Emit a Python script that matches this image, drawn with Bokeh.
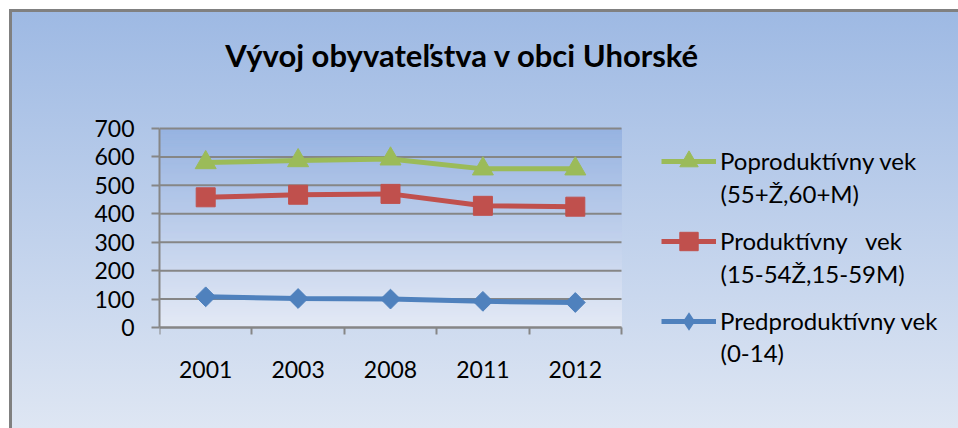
import numpy as np
from bokeh.plotting import figure
from bokeh.models import (Range1d, FixedTicker, Legend, LegendItem, ColumnDataSource, Label)
from bokeh.core.properties import value
from bokeh.embed import file_html
from bokeh.resources import INLINE

# ---------------- data ----------------
years = ["2001", "2003", "2008", "2011", "2012"]
poproduktivny = [580, 587, 593, 558, 558]
produktivny = [458, 467, 470, 428, 425]
predproduktivny = [108, 102, 100, 92, 88]
y_ticks = [0, 100, 200, 300, 400, 500, 600, 700]
series_names = ["Poproduktívny vek", "Produktívny   vek", "Predproduktívny vek"]
series_notes = ["(55+Ž,60+M)", "(15-54Ž,15-59M)", "(0-14)"]
title_text = "Vývoj obyvateľstva v obci Uhorské"

# ---------------- layout (canvas px) ----------------
W, H = 958, 428
PL, PR, PT, PB = 159, 621, 128, 327      # plot-area edges
FL, FR, FT, FB = 159, 958, 0, 408        # frame edges (frame holds title + legend too)

xs = list(range(1, len(years) + 1))
bounds = [x - 0.5 for x in xs] + [xs[-1] + 0.5]

ppx = (PR - PL) / (bounds[-1] - bounds[0])
ppy = (PB - PT) / (y_ticks[-1] - y_ticks[0])
x_range = Range1d(bounds[0] - (PL - FL) / ppx, bounds[-1] + (FR - PR) / ppx)
y_range = Range1d(y_ticks[0] - (FB - PB) / ppy, y_ticks[-1] + (PT - FT) / ppy)

p = figure(width=W, height=H, output_backend="svg", toolbar_location=None,
           x_range=x_range, y_range=y_range,
           min_border_left=FL, min_border_right=W - FR,
           min_border_top=FT, min_border_bottom=H - FB)
p.border_fill_alpha = 0
p.background_fill_alpha = 0
p.outline_line_color = None
p.styles = {
    "background-image": "linear-gradient(to bottom, #9cb8e3 0%, #dee6f3 100%)",
    "box-shadow": "inset 9px 9px 0 0 #ffffff, inset 12px 12px 0 0 #808080",
}


def scr(cx, cy):
    """canvas px -> screen units of the frame (origin bottom-left)"""
    return cx - FL, FB - cy


# ---------------- plot-area gradient ----------------
def hex2rgb(h):
    return tuple(int(h[i:i + 2], 16) for i in (1, 3, 5))


def mix(c0, c1, t):
    a, b = hex2rgb(c0), hex2rgb(c1)
    return "#%02x%02x%02x" % tuple(int(round(u + (v - u) * t)) for u, v in zip(a, b))


n_bands = 100
edges = np.linspace(y_ticks[-1], y_ticks[0], n_bands + 1)
band_src = ColumnDataSource(dict(
    top=edges[:-1], bottom=edges[1:],
    color=[mix("#97b3e1", "#e3e9f5", (i + 0.5) / n_bands) for i in range(n_bands)]))
p.quad(left=bounds[0], right=bounds[-1], top="top", bottom="bottom", source=band_src,
       fill_color="color", line_color="color", line_width=1, level="image")

# ---------------- grid lines (plot area only) ----------------
GRAY = "#868686"
p.xgrid.visible = False
p.ygrid.visible = False
p.segment(x0=bounds[0], x1=bounds[-1], y0=y_ticks, y1=y_ticks,
          line_color=GRAY, line_width=2, level="underlay")

# ---------------- axes ----------------
# x axis: line + category-boundary ticks at y = 0; year labels under the categories
p.xaxis.ticker = FixedTicker(ticks=[], minor_ticks=bounds)
p.xaxis.fixed_location = y_ticks[0]
p.xaxis.bounds = (bounds[0], bounds[-1])
p.yaxis.ticker = FixedTicker(ticks=y_ticks)
p.yaxis.bounds = (y_ticks[0], y_ticks[-1])

for ax in (p.xaxis[0], p.yaxis[0]):
    ax.axis_line_color = GRAY
    ax.axis_line_width = 2
    ax.major_tick_line_color = GRAY
    ax.major_tick_line_width = 2
    ax.major_label_text_font = "Lato"
    ax.major_label_text_font_size = "23px"
    ax.major_label_text_color = "black"

p.yaxis.major_tick_out = 8
p.yaxis.major_tick_in = 0
p.yaxis.minor_tick_line_color = None
p.yaxis.major_label_standoff = 17

p.xaxis.major_tick_out = 0
p.xaxis.major_tick_in = 0
p.xaxis.major_tick_line_color = None
p.xaxis.minor_tick_out = 7
p.xaxis.minor_tick_in = 0
p.xaxis.minor_tick_line_color = GRAY
p.xaxis.minor_tick_line_width = 2
p.xaxis.major_label_standoff = 0

p.text(x=xs, y=[y_ticks[0]] * len(xs), text=years, y_offset=42,
       text_align="center", text_baseline="middle",
       text_font=value("Lato"), text_font_size="23px", text_color="black")

# ---------------- series ----------------
src = ColumnDataSource(dict(x=xs, post=poproduktivny, prod=produktivny, pre=predproduktivny))
cols = ["post", "prod", "pre"]
colors = ["#9bbb59", "#c0504d", "#4f81bd"]
markers = ["triangle", "square", "square"]
angles = [0, 0, np.pi / 4]
sizes = [21, 19, 14]
legend_markers = ["triangle", "square", "diamond"]

items = []
for col, c, m, a, s, lm, name in zip(cols, colors, markers, angles, sizes,
                                     legend_markers, series_names):
    lr = p.line("x", col, source=src, line_color=c, line_width=5)
    sr = p.scatter("x", col, source=src, marker=m, size=s, angle=a,
                   fill_color=c, line_color=c)
    if lm != m:
        # legend-only marker (the legend does not rotate markers): zero size in the plot
        sr = p.scatter("x", col, source=src, marker=lm, size=0,
                       fill_color=c, line_color=None)
    items.append(LegendItem(label=value(name), renderers=[lr, sr]))

GH, GS = 46, 34
lx, ly = scr(661, 160.7 - GH / 2 + 3 * GH + 2 * GS)
legend = Legend(items=items, location=(lx, ly), orientation="vertical",
                glyph_width=55, glyph_height=GH, label_height=20, spacing=GS,
                padding=0, margin=0, label_standoff=4,
                border_line_color=None, background_fill_alpha=0,
                label_text_font="Lato", label_text_font_size="24px",
                label_text_color="black")
p.add_layout(legend, "center")

for note, cy in zip(series_notes, [192.7, 273, 351.7]):
    nx, ny = scr(720, cy)
    p.add_layout(Label(x=nx, y=ny, x_units="screen", y_units="screen", text=note,
                       text_font="Lato", text_font_size="24px", text_color="black",
                       text_align="left", text_baseline="middle"))

# ---------------- title ----------------
tx, ty = scr(462, 54)
p.add_layout(Label(x=tx, y=ty, x_units="screen", y_units="screen", text=title_text,
                   text_font="Lato", text_font_size="31px", text_font_style="bold",
                   text_color="black", text_align="center", text_baseline="middle"))

open("out.html", "w").write(file_html(p, INLINE))
